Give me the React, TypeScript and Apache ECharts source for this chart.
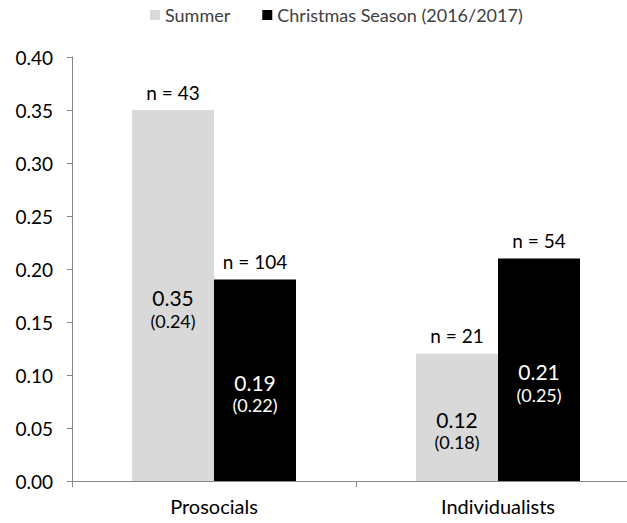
import React, { useEffect, useRef } from "react";
import * as echarts from "echarts";

const categories = ["Prosocials", "Individualists"];
const seriesNames = ["Summer", "Christmas Season (2016/2017)"];
const summerMeans = [0.35, 0.12];
const summerSDs = [0.24, 0.18];
const summerN = [43, 21];
const christmasMeans = [0.19, 0.21];
const christmasSDs = [0.22, 0.25];
const christmasN = [104, 54];
const yTicks = { min: 0, max: 0.4, interval: 0.05 };

const FONT = "Lato, 'Open Sans', sans-serif";

function makeSeries(
  name: string,
  means: number[],
  sds: number[],
  ns: number[],
  color: string,
  textColor: string
) {
  return {
    name,
    type: "bar",
    barWidth: 82,
    barGap: "0%",
    data: means,
    itemStyle: { color },
    label: {
      show: true,
      position: "inside",
      offset: [0, 13],
      formatter: (p: any) =>
        `{a|${means[p.dataIndex].toFixed(2)}}\n{b|(${sds[p.dataIndex].toFixed(2)})}`,
      rich: {
        a: { fontSize: 21, color: textColor, fontFamily: FONT, lineHeight: 24 },
        b: { fontSize: 18, color: textColor, fontFamily: FONT, lineHeight: 22 },
      },
    },
    markPoint: {
      symbol: "circle",
      symbolSize: 1,
      itemStyle: { color: "rgba(0,0,0,0)" },
      label: {
        show: true,
        position: "top",
        distance: 8,
        color: "#000",
        fontSize: 19,
        fontFamily: FONT,
        formatter: (p: any) => `n = ${ns[p.dataIndex]}`,
      },
      data: means.map((v, i) => ({ coord: [i, v], value: ns[i] })),
    },
  };
}

export default function App() {
  const ref = useRef<HTMLDivElement>(null);
  useEffect(() => {
    document.body.style.margin = "0";
    const chart = echarts.init(ref.current!, undefined, { renderer: "svg" });
    chart.setOption({
      animation: false,
      textStyle: { fontFamily: FONT },
      legend: {
        top: 1,
        left: 145,
        itemWidth: 10,
        itemHeight: 10,
        itemGap: 32,
        icon: "rect",
        textStyle: { fontSize: 18, color: "#404040", fontFamily: FONT },
        data: seriesNames,
      },
      grid: {
        left: 72,
        right: 10,
        top: 57,
        bottom: 42,
        containLabel: false,
        outerBoundsMode: "none",
      },
      xAxis: {
        type: "category",
        data: categories,
        axisLine: { lineStyle: { color: "#868686" } },
        axisTick: { show: true, length: 6, lineStyle: { color: "#868686" } },
        axisLabel: { fontSize: 20, color: "#000", margin: 15, fontFamily: FONT },
      },
      yAxis: {
        type: "value",
        min: yTicks.min,
        max: yTicks.max,
        interval: yTicks.interval,
        axisLine: { show: true, lineStyle: { color: "#868686" } },
        axisTick: { show: true, length: 5, lineStyle: { color: "#868686" } },
        splitLine: { show: false },
        axisLabel: {
          fontSize: 19,
          color: "#000",
          margin: 19,
          fontFamily: FONT,
          formatter: (v: number) => v.toFixed(2),
        },
      },
      series: [
        makeSeries(seriesNames[0], summerMeans, summerSDs, summerN, "#d9d9d9", "#000"),
        makeSeries(seriesNames[1], christmasMeans, christmasSDs, christmasN, "#000000", "#fff"),
      ],
    });
    return () => chart.dispose();
  }, []);
  return (
    <div
      style={{
        position: "absolute",
        left: 0,
        top: 0,
        width: 627,
        height: 523,
        overflow: "hidden",
      }}
    >
      <div ref={ref} style={{ width: 650, height: 523 }} />
    </div>
  );
}
